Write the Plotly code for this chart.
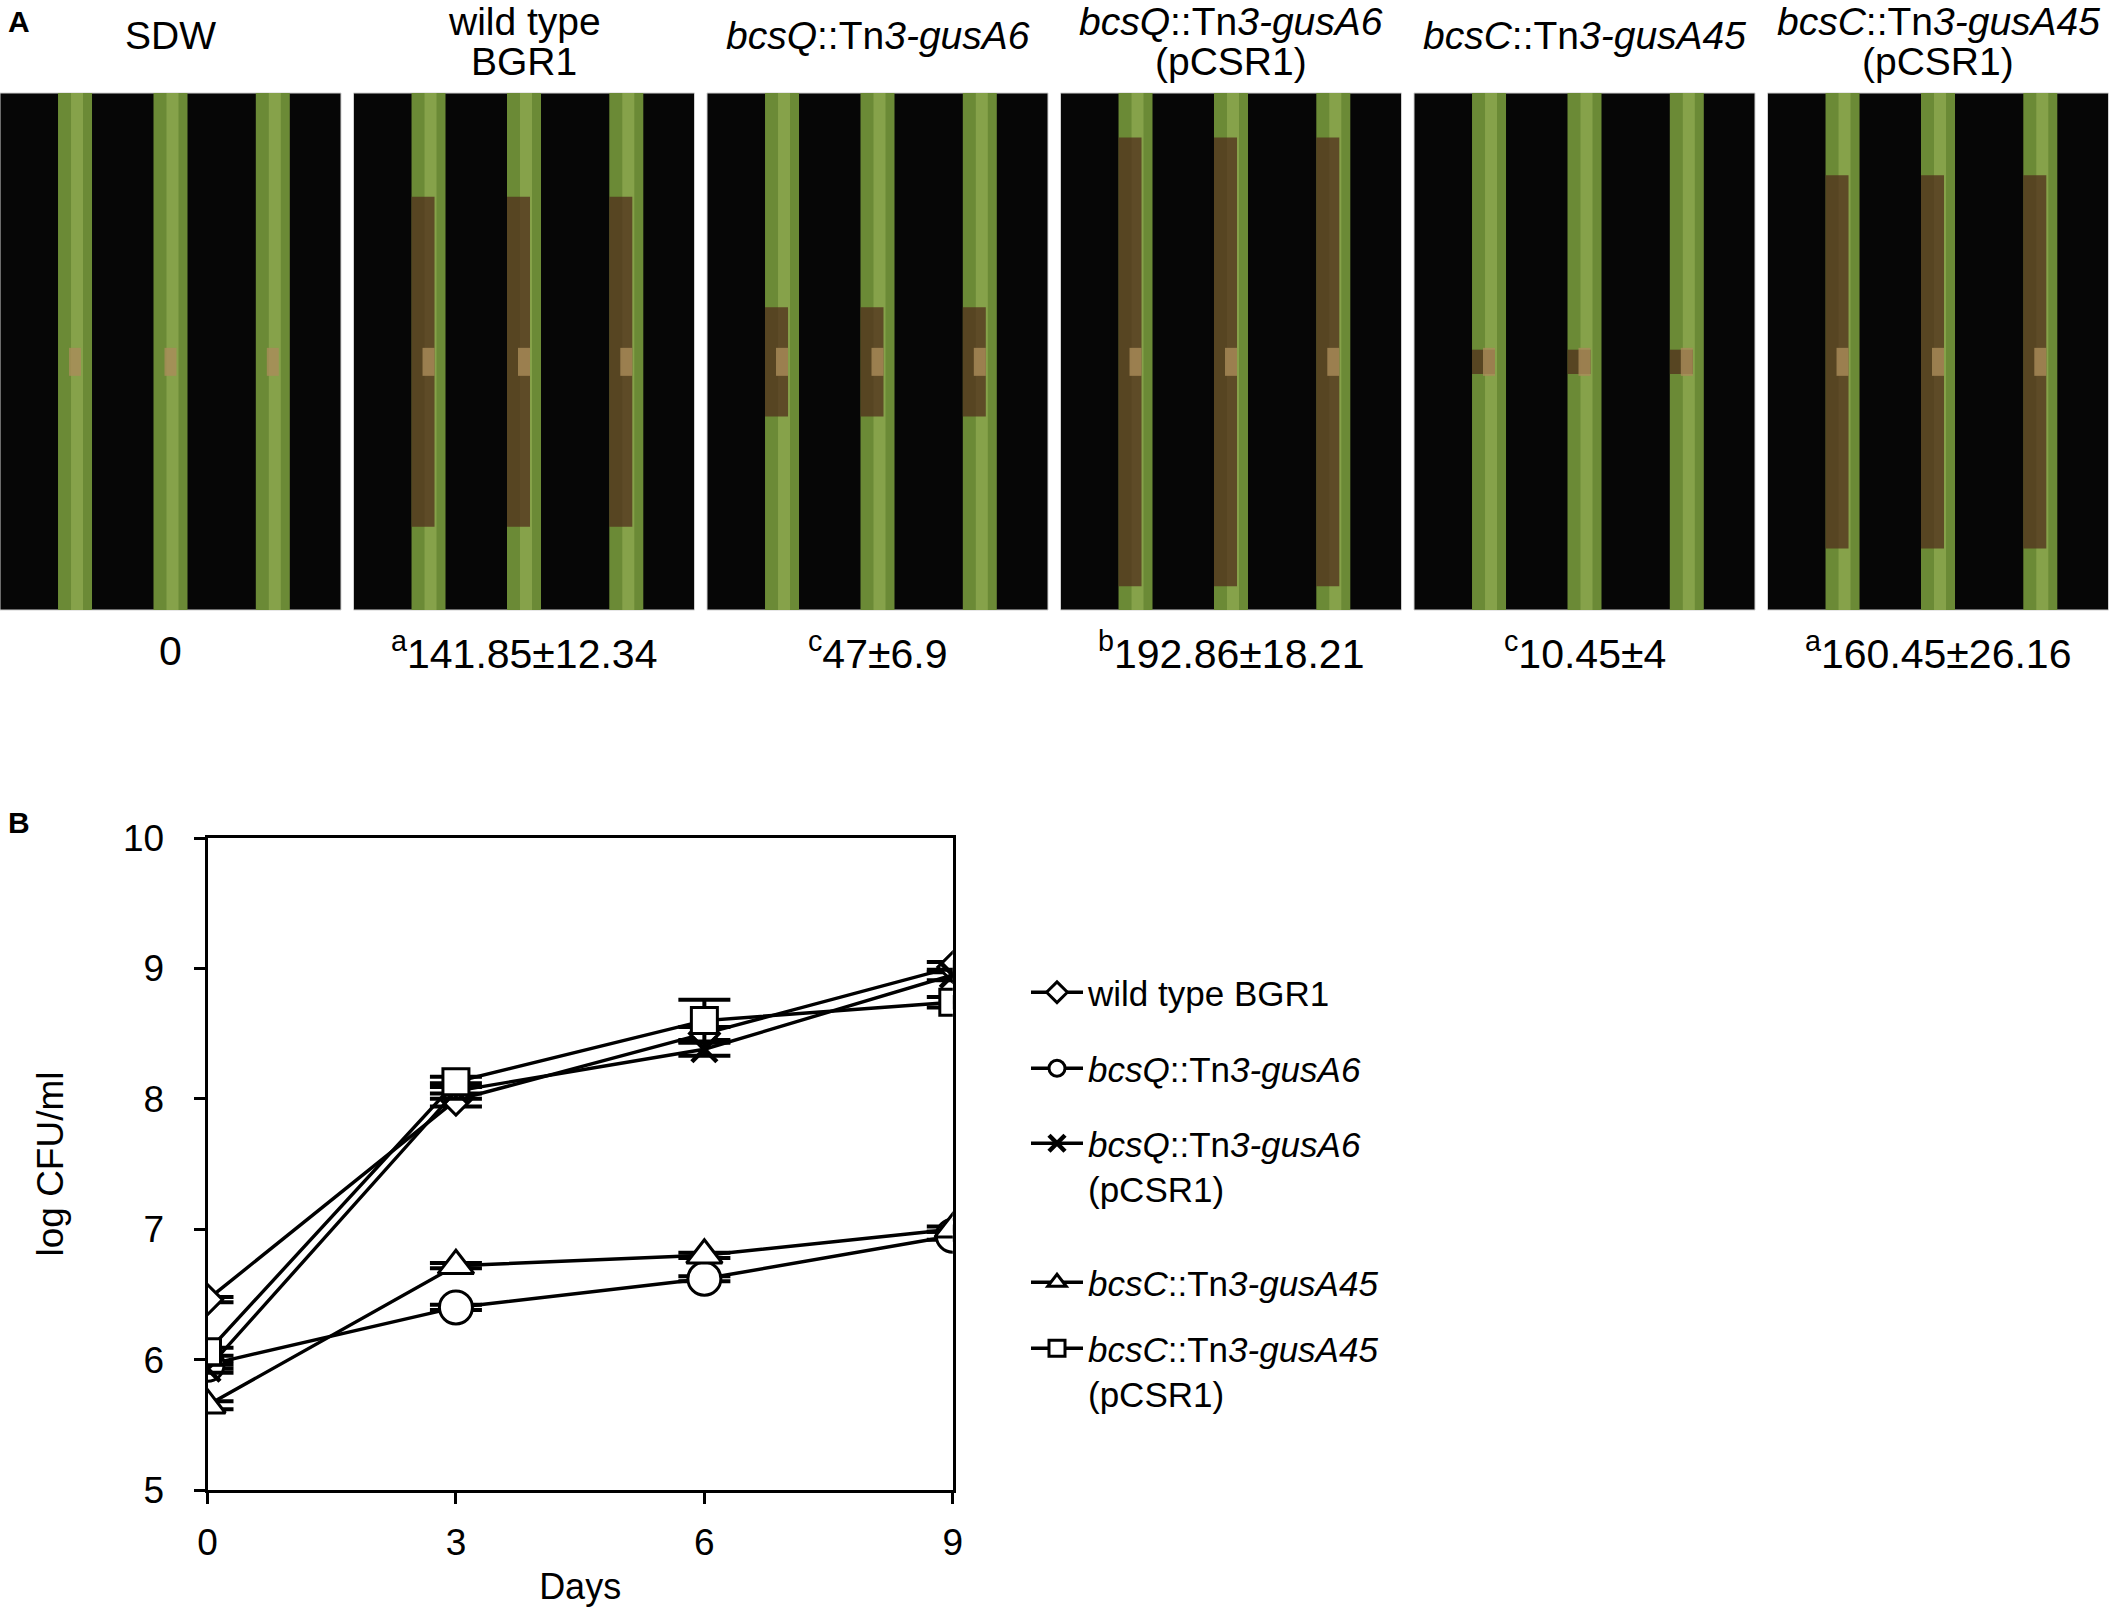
import plotly.graph_objects as go

W, H = 2113, 1613

# ---- panel A data (lesion length, mm) ----
panel_titles = ["SDW", "wild type<br>BGR1", "<i>bcsQ</i>::Tn<i>3-gusA6</i>",
                "<i>bcsQ</i>::Tn<i>3-gusA6</i><br>(pCSR1)", "<i>bcsC</i>::Tn<i>3-gusA45</i>",
                "<i>bcsC</i>::Tn<i>3-gusA45</i><br>(pCSR1)"]
lesion_mean = [0, 141.85, 47, 192.86, 10.45, 160.45]
lesion_sd = [None, 12.34, 6.9, 18.21, 4, 26.16]
lesion_letter = ["", "a", "c", "b", "c", "a"]

# ---- panel B data (log CFU/ml) ----
days = [0, 3, 6, 9]
strains = ["wild type BGR1", "<i>bcsQ</i>::Tn<i>3-gusA6</i>",
           "<i>bcsQ</i>::Tn<i>3-gusA6</i><br>(pCSR1)", "<i>bcsC</i>::Tn<i>3-gusA45</i>",
           "<i>bcsC</i>::Tn<i>3-gusA45</i><br>(pCSR1)"]
wt = [6.46, 7.99, 8.5, 9.01]
wt_err = [0.02, 0.05, 0.05, 0.04]
bcsq = [5.96, 6.4, 6.62, 6.95]
bcsq_err = [0.03, 0.02, 0.02, 0.03]
bcsq_c = [5.93, 8.06, 8.38, 8.95]
bcsq_c_err = [0.03, 0.06, 0.05, 0.04]
bcsc = [5.65, 6.72, 6.8, 7.0]
bcsc_err = [0.03, 0.02, 0.02, 0.02]
bcsc_c = [6.06, 8.13, 8.6, 8.74]
bcsc_c_err = [0.03, 0.04, 0.16, 0.04]

symbols = ["diamond", "circle", "x-thin-open", "triangle-up", "square"]
sizes = [23, 33, 25, 31, 26]


def px(x):
    return x / W


def py(y):
    return 1 - y / H


FONT = "Liberation Sans, Arial, sans-serif"
fig = go.Figure()

series = [(wt, wt_err), (bcsq, bcsq_err), (bcsq_c, bcsq_c_err), (bcsc, bcsc_err), (bcsc_c, bcsc_c_err)]
for i, (vals, errs) in enumerate(series):
    is_open = symbols[i].endswith("-open")
    fig.add_trace(go.Scatter(
        x=days, y=vals, name=strains[i], mode="lines+markers",
        line=dict(color="black", width=3.4),
        marker=dict(symbol=symbols[i], size=sizes[i], color="black" if is_open else "white",
                    line=dict(color="black", width=4.5 if is_open else 3)),
        error_y=dict(type="data", array=errs, color="black", thickness=4, width=26),
        legend="legend" if i == 0 else "legend%d" % (i + 1),
    ))

# ---- panel A: photo-like panels ----
shapes = []
annotations = []
top, bottom = 93, 610
panel_w, step = 341, 353.5
stem_pos = [0.22, 0.5, 0.8]
for i in range(len(panel_titles)):
    x0 = i * step
    shapes.append(dict(type="rect", xref="paper", yref="paper", x0=px(x0), x1=px(x0 + panel_w),
                       y0=py(bottom), y1=py(top), fillcolor="#060606",
                       line=dict(color="#d0d0d0", width=1), layer="below"))
    for f in stem_pos:
        cx = x0 + f * panel_w
        shapes.append(dict(type="rect", xref="paper", yref="paper", x0=px(cx - 17), x1=px(cx + 17),
                           y0=py(bottom), y1=py(top), fillcolor="#6b8a36", line=dict(width=0), layer="below"))
        shapes.append(dict(type="rect", xref="paper", yref="paper", x0=px(cx - 4), x1=px(cx + 8),
                           y0=py(bottom), y1=py(top), fillcolor="#86a24a", line=dict(width=0), layer="below"))
        h = lesion_mean[i] / 200 * (bottom - top) * 0.9
        cy = top + 0.52 * (bottom - top)
        if h > 0:
            shapes.append(dict(type="rect", xref="paper", yref="paper", x0=px(cx - 17), x1=px(cx + 6),
                               y0=py(min(bottom, cy + h / 2)), y1=py(max(top, cy - h / 2)),
                               fillcolor="rgba(80,45,28,0.75)", line=dict(width=0), layer="below"))
        shapes.append(dict(type="rect", xref="paper", yref="paper", x0=px(cx - 6), x1=px(cx + 6),
                           y0=py(cy + 14), y1=py(cy - 14), fillcolor="rgba(170,140,90,0.8)",
                           line=dict(width=0), layer="below"))

    # title lines
    lines = panel_titles[i].split("<br>")
    ys = [36] if len(lines) == 1 else [22, 62]
    for t, yy in zip(lines, ys):
        annotations.append(dict(xref="paper", yref="paper", x=px(x0 + panel_w / 2), y=py(yy),
                                text=t, showarrow=False, xanchor="center", yanchor="middle",
                                font=dict(family=FONT, size=39, color="black")))
    if lesion_sd[i] is None:
        label = "%g" % lesion_mean[i]
    else:
        label = "<sup>%s</sup>%g±%g" % (lesion_letter[i], lesion_mean[i], lesion_sd[i])
    annotations.append(dict(xref="paper", yref="paper", x=px(x0 + panel_w / 2), y=py(651),
                            text=label, showarrow=False, xanchor="center", yanchor="middle",
                            font=dict(family=FONT, size=41, color="black")))

annotations.append(dict(xref="paper", yref="paper", x=px(6), y=py(22), text="<b>A</b>",
                        showarrow=False, xanchor="left", yanchor="middle",
                        font=dict(family=FONT, size=30, color="black")))
annotations.append(dict(xref="paper", yref="paper", x=px(6), y=py(822), text="<b>B</b>",
                        showarrow=False, xanchor="left", yanchor="middle",
                        font=dict(family=FONT, size=30, color="black")))

leg_top = [963, 1039, 1114, 1253, 1319]
legends = {}
for i, yt in enumerate(leg_top):
    key = "legend" if i == 0 else "legend%d" % (i + 1)
    legends[key] = dict(x=px(1026), y=py(yt), xanchor="left", yanchor="top", valign="top",
                        bgcolor="rgba(0,0,0,0)", font=dict(family=FONT, size=35, color="black"),
                        itemwidth=52, tracegroupgap=0)

tick_font = dict(family=FONT, size=37, color="black")
fig.update_layout(
    width=W, height=H, margin=dict(l=0, r=0, t=0, b=0, pad=0, autoexpand=False),
    paper_bgcolor="white", plot_bgcolor="white",
    shapes=shapes, annotations=annotations, showlegend=True,
    xaxis=dict(domain=[px(207.5), px(952.8)], range=[0, 9], tickvals=days, automargin=False,
               showline=True, linecolor="black", linewidth=3, mirror=True,
               ticks="outside", ticklen=11, tickwidth=3, tickcolor="black",
               showgrid=False, zeroline=False, tickfont=tick_font, ticklabelstandoff=7,
               title=dict(text="Days", font=dict(family=FONT, size=36, color="black"), standoff=12)),
    yaxis=dict(domain=[py(1490), py(838)], range=[5, 10], tickvals=[5, 6, 7, 8, 9, 10], automargin=False,
               showline=True, linecolor="black", linewidth=3, mirror=True,
               ticks="outside", ticklen=11, tickwidth=3, tickcolor="black",
               showgrid=False, zeroline=False, tickfont=tick_font, ticklabelstandoff=22,
               title=dict(text="log CFU/ml", font=dict(family=FONT, size=37, color="black"), standoff=48)),
    **legends,
)

fig.write_html("out.html", config={"displayModeBar": False},
               post_script="document.body.style.margin='0px';")
